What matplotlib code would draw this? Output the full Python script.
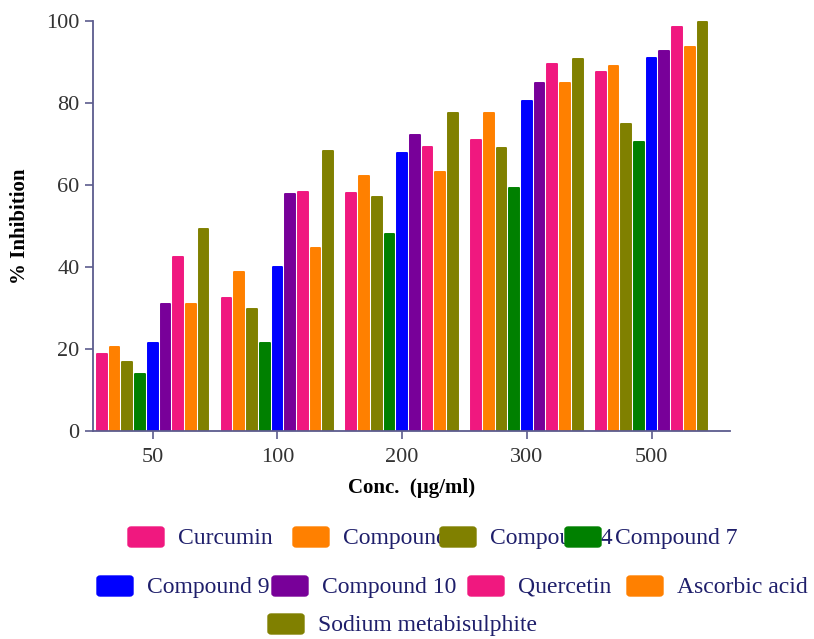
import matplotlib.pyplot as plt
import matplotlib.patches as mpatches
import numpy as np

plt.rcParams['font.family'] = ['Liberation Serif', 'DejaVu Serif']

# ── Data ──────────────────────────────────────────────────────────────────────
conc = ["50", "100", "200", "300", "500"]
series = ["Curcumin", "Compound 3", "Compound 4", "Compound 7", "Compound 9",
          "Compound 10", "Quercetin", "Ascorbic acid", "Sodium metabisulphite"]

curcumin   = [18.8, 32.4, 58.0, 71.0, 87.6]
compound3  = [20.4, 38.8, 62.2, 77.5, 89.0]
compound4  = [16.8, 29.8, 57.1, 69.0, 74.8]
compound7  = [13.8, 21.4, 48.0, 59.2, 70.4]
compound9  = [21.4, 40.0, 67.8, 80.5, 91.0]
compound10 = [31.0, 57.8, 72.2, 84.8, 92.8]
quercetin  = [42.4, 58.4, 69.2, 89.6, 98.6]
ascorbic   = [31.0, 44.6, 63.2, 84.8, 93.6]
sodium_mbs = [49.4, 68.4, 77.6, 90.8, 99.8]

values = [curcumin, compound3, compound4, compound7, compound9,
          compound10, quercetin, ascorbic, sodium_mbs]

colors = ["#F0187F", "#FF8000", "#808000", "#008000", "#0000FF",
          "#780099", "#F0187F", "#FF8000", "#808000"]

# ── Plot ──────────────────────────────────────────────────────────────────────
fig = plt.figure(figsize=(8.14, 6.39), dpi=100)
ax = fig.add_axes([0.114, 0.3255, 0.783, 0.6415])

x = np.arange(len(conc))
slot = 0.102
for i, (vals, col) in enumerate(zip(values, colors)):
    off = (i - 4) * slot
    ax.bar(x + off, vals, width=slot - 0.024, color=col, edgecolor=col,
           linewidth=1.4, joinstyle='round', zorder=2)

axis_col = "#5c5c8e"
ax.set_xlim(-0.48, 4.63)
ax.set_ylim(0, 100)
ax.set_xticks(x)
ax.set_xticklabels(conc)
ax.set_yticks(np.arange(0, 101, 20))
for s in ['top', 'right']:
    ax.spines[s].set_visible(False)
for s in ['left', 'bottom']:
    ax.spines[s].set_color(axis_col)
    ax.spines[s].set_linewidth(1.3)
ax.tick_params(axis='both', colors=axis_col, length=6, width=1.2,
               labelsize=16, labelcolor="#333333")
ax.tick_params(axis='x', pad=6)

ax.set_ylabel("% Inhibition", fontsize=15, fontweight='bold', labelpad=12)
ax.set_xlabel("Conc.  (µg/ml)", fontsize=15, fontweight='bold', labelpad=8)

# ── Legend (hand-placed, patches drawn over overlapping labels) ──────────────
W, H = 814.0, 639.0
leg_rows = [(537, [128, 293, 440, 565]),
            (586, [97, 272, 468, 627]),
            (624, [268])]
k = 0
for ypix, xs in leg_rows:
    for xp in xs:
        fig.text((xp + 50) / W, 1 - (ypix + 1.5) / H, series[k], fontsize=17,
                 color="#1f1f6b", ha='left', va='center', zorder=1)
        fig.patches.append(mpatches.FancyBboxPatch(
            (xp / W, 1 - (ypix + 10) / H), 36 / W, 20 / H,
            boxstyle="round,pad=0,rounding_size=0.004",
            transform=fig.transFigure, facecolor=colors[k],
            edgecolor=colors[k], zorder=5))
        k += 1

fig.savefig("out.png", dpi=100)
